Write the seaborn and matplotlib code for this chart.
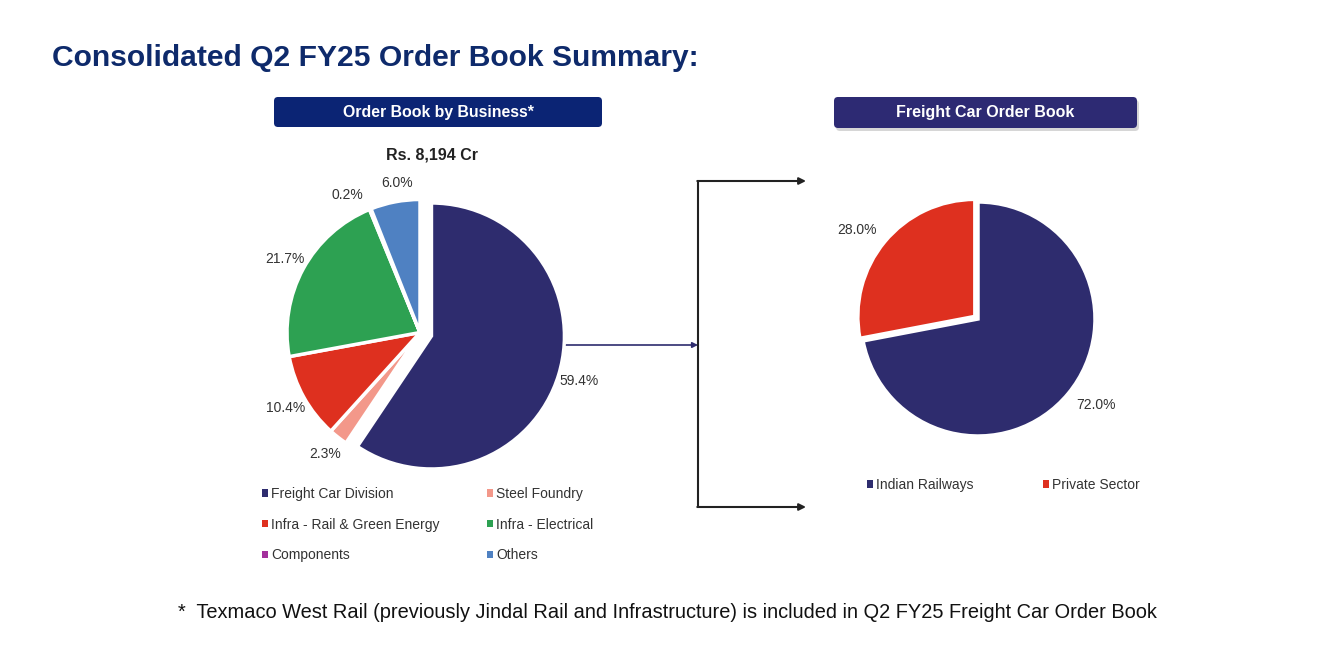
import matplotlib
matplotlib.use("Agg")
import matplotlib.pyplot as plt
import numpy as np
import seaborn as sns
from matplotlib.patches import FancyBboxPatch, Patch

sns.set_theme(style="white")
plt.rcParams['font.family'] = ['Liberation Sans', 'DejaVu Sans']

# ---- data ----
business_labels = ["Freight Car Division", "Steel Foundry", "Infra - Rail & Green Energy",
                   "Infra - Electrical", "Components", "Others"]
business_values = [59.4, 2.3, 10.4, 21.7, 0.2, 6.0]
business_colors = ["#2E2C6E", "#F3988A", "#DE301F", "#2DA152", "#A3309C", "#4F81C2"]

freight_labels = ["Indian Railways", "Private Sector"]
freight_values = [72.0, 28.0]
freight_colors = ["#2E2C6E", "#DE301F"]

total_text = "Rs. 8,194 Cr"
title = "Consolidated Q2 FY25 Order Book Summary:"
footnote = "*  Texmaco West Rail (previously Jindal Rail and Infrastructure) is included in Q2 FY25 Freight Car Order Book"

W, H = 1334, 645
fig = plt.figure(figsize=(W / 100, H / 100), dpi=100)
fig.patch.set_facecolor("white")

# overlay axes in pixel coordinates for decorations
ov = fig.add_axes([0, 0, 1, 1])
ov.set_xlim(0, W)
ov.set_ylim(H, 0)
ov.axis("off")
ov.set_zorder(0)


def pie_axes(cx, cy, half):
    ax = fig.add_axes([(cx - half) / W, (H - (cy + half)) / H, 2 * half / W, 2 * half / H])
    ax.axis("off")
    ax.set_zorder(2)
    return ax


def nudge(wedge, txt, dist, dang):
    ang = np.deg2rad((wedge.theta1 + wedge.theta2) / 2 + dang)
    cx, cy = wedge.center
    txt.set_position((cx + dist * np.cos(ang), cy + dist * np.sin(ang)))


# ---- left pie ----
axL = pie_axes(420, 332.5, 185)
wedgesL, _, autL = axL.pie(business_values, colors=business_colors, startangle=90, counterclock=False,
                           explode=[0.09, 0, 0, 0, 0, 0], autopct="%1.1f%%", pctdistance=1.16,
                           wedgeprops=dict(edgecolor="white", linewidth=2.5),
                           textprops=dict(fontsize=10, color="#333333"))
nudge(wedgesL[4], autL[4], 1.17, 6)
nudge(wedgesL[5], autL[5], 1.14, -2)
axL.set_aspect("equal")
axL.set_xlim(-185 / 133, 185 / 133)
axL.set_ylim(-185 / 133, 185 / 133)

# ---- right pie ----
axR = pie_axes(978, 319, 165)
wedgesR, _, autR = axR.pie(freight_values, colors=freight_colors, startangle=90, counterclock=False,
                           explode=[0, 0.035], autopct="%1.1f%%", pctdistance=1.24,
                           wedgeprops=dict(edgecolor="white", linewidth=2.5),
                           textprops=dict(fontsize=10, color="#333333"))
for w, t in zip(wedgesR, autR):
    nudge(w, t, 1.25, 3.5)
axR.set_aspect("equal")
axR.set_xlim(-165 / 117, 165 / 117)
axR.set_ylim(-165 / 117, 165 / 117)

# ---- title ----
ov.text(52, 58, title, fontsize=21.6, fontweight="bold", color="#0E2A6B", ha="left", va="center")

# ---- header boxes ----
ov.add_patch(FancyBboxPatch((274, 97), 328, 30, boxstyle="round,pad=0,rounding_size=4",
                            facecolor="#0B2474", edgecolor="none"))
ov.text(438, 112.5, "Order Book by Business*", fontsize=11.4, fontweight="bold", color="white",
        ha="center", va="center")
ov.add_patch(FancyBboxPatch((836, 100), 303, 31, boxstyle="round,pad=0,rounding_size=4",
                            facecolor="#BBBBBB", edgecolor="none", alpha=0.6))
ov.add_patch(FancyBboxPatch((834, 97), 303, 31, boxstyle="round,pad=0,rounding_size=4",
                            facecolor="#2D2A73", edgecolor="none"))
ov.text(985, 112.5, "Freight Car Order Book", fontsize=11.5, fontweight="bold", color="white",
        ha="center", va="center")

ov.text(432, 155, total_text, fontsize=11.5, fontweight="bold", color="#222222", ha="center", va="center")

# ---- arrows ----
ov.annotate("", xy=(698, 345), xytext=(565, 345),
            arrowprops=dict(arrowstyle="-|>", color="#2E2C6E", lw=1.2, mutation_scale=8, shrinkA=0, shrinkB=0))
ov.plot([698, 698], [181, 507], color="#222222", lw=1.5)
for yy in (181, 507):
    ov.annotate("", xy=(806, yy), xytext=(697.3, yy),
                arrowprops=dict(arrowstyle="-|>", color="#222222", lw=1.5, mutation_scale=10,
                                shrinkA=0, shrinkB=0))

# ---- legends ----
order = [0, 2, 4, 1, 3, 5]
hL = [Patch(facecolor=business_colors[i], edgecolor="none") for i in order]
lL = [business_labels[i] for i in order]
legL = fig.legend(hL, lL, ncol=2, loc="upper left", bbox_to_anchor=(255 / W, 1 - 480 / H),
                  frameon=False, fontsize=10, handlelength=0.45, handleheight=0.45,
                  handletextpad=0.2, columnspacing=3.43, labelspacing=1.2, borderpad=0,
                  labelcolor="#333333")

hR = [Patch(facecolor=c, edgecolor="none") for c in freight_colors]
legR = fig.legend(hR, freight_labels, ncol=2, loc="upper left", bbox_to_anchor=(860 / W, 1 - 471 / H),
                  frameon=False, fontsize=10, handlelength=0.45, handleheight=0.45,
                  handletextpad=0.2, columnspacing=4.97, borderpad=0, labelcolor="#333333")

# ---- footnote ----
ov.text(178, 612, footnote, fontsize=14.4, color="#111111", ha="left", va="center")

fig.savefig("out.png", dpi=100, facecolor="white")
